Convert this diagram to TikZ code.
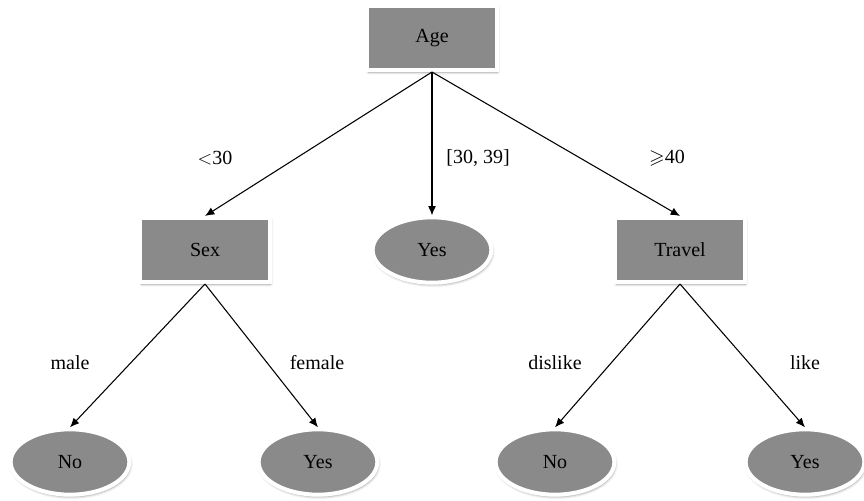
\documentclass[tikz,border=0pt]{standalone}
\usepackage{amssymb}
\usepackage{fontspec}
\setmainfont{Liberation Serif}
\usetikzlibrary{shapes.geometric,shadows.blur,arrows.meta}

\definecolor{nodegray}{RGB}{138,138,138}

\begin{document}
\begin{tikzpicture}[x=0.75pt,y=-0.75pt,
  test/.style={rectangle, fill=nodegray, draw=white, line width=3pt,
    minimum width=97pt, minimum height=48pt,
    blur shadow={shadow xshift=0.8pt, shadow yshift=-1.6pt, shadow blur radius=2pt}},
  leaf/.style={ellipse, fill=nodegray, draw=white, line width=3pt,
    minimum width=89pt, minimum height=49pt, inner sep=0pt,
    blur shadow={shadow xshift=0.8pt, shadow yshift=-1.6pt, shadow blur radius=2pt}},
  branch/.style={-{Latex[length=7pt,width=6pt]}, line width=0.8pt},
  font=\fontsize{15}{17}\selectfont]
\useasboundingbox (0,0) rectangle (864,500);

% tests
\node [test] (age) at (432,38) {Age};
\node [test] (sex) at (205,250) {Sex};
\node [test] (travel) at (680,250) {Travel};

% leaves
\node [leaf] (yes1) at (432,250) {Yes};
\node [leaf] (no1) at (70,462) {No};
\node [leaf] (yes2) at (318,462) {Yes};
\node [leaf] (no2) at (555,462) {No};
\node [leaf] (yes3) at (805,462) {Yes};

% branches
\draw [branch] (age.south) -- (sex.north);
\draw [branch] (age.south) -- (yes1.north);
\draw [branch] (age.south) -- (travel.north);
\draw [branch] (sex.south) -- (no1.north);
\draw [branch] (sex.south) -- (yes2.north);
\draw [branch] (travel.south) -- (no2.north);
\draw [branch] (travel.south) -- (yes3.north);

% branch labels
\node (lyoung) at (215,158) {$<$30};
\node (lmid) at (478,158) {[30, 39]};
\node (lold) at (667,158) {$\geqslant$40};
\node (lmale) at (70,363) {male};
\node (lfemale) at (317,363) {female};
\node (ldislike) at (555,363) {dislike};
\node (llike) at (805,363) {like};
\end{tikzpicture}
\end{document}
